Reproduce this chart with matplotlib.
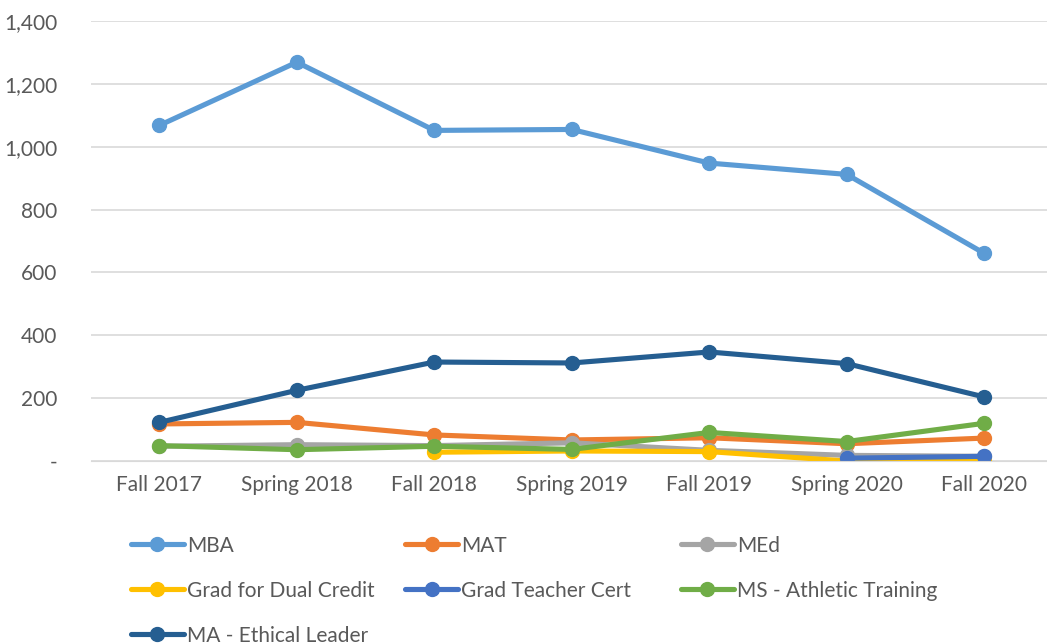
import matplotlib.pyplot as plt
from matplotlib.ticker import FuncFormatter

terms = ['Fall 2017', 'Spring 2018', 'Fall 2018', 'Spring 2019', 'Fall 2019', 'Spring 2020', 'Fall 2020']

mba = [1068, 1269, 1052, 1055, 948, 912, 661]
mat = [118, 123, 83, 67, 74, 55, 73]
med = [47, 52, 49, 58, 34, 18, 15]
grad_dual = [None, None, 28, 32, 30, 0, 0]
grad_teacher = [None, None, None, None, None, 9, 15]
ms_athletic = [49, 36, 47, 37, 91, 62, 120]
ma_ethical = [123, 225, 315, 312, 347, 310, 204]

names = ['MBA', 'MAT', 'MEd', 'Grad for Dual Credit', 'Grad Teacher Cert',
         'MS - Athletic Training', 'MA - Ethical Leader']
series = [mba, mat, med, grad_dual, grad_teacher, ms_athletic, ma_ethical]
colors = ['#5B9BD5', '#ED7D31', '#A5A5A5', '#FFC000', '#4472C4', '#70AD47', '#255E91']

plt.rcParams['font.family'] = ['Lato', 'DejaVu Sans']

fig = plt.figure(figsize=(10.47, 6.43), dpi=100)
ax = fig.add_axes([0.0866, 0.283, 0.919, 0.6843])

x = list(range(len(terms)))
handles = []
for name, vals, c in zip(names, series, colors):
    xs = [i for i, v in zip(x, vals) if v is not None]
    ys = [v for v in vals if v is not None]
    h, = ax.plot(xs, ys, color=c, lw=3.7, marker='o', ms=10, label=name, solid_capstyle='round')
    handles.append(h)

ax.set_xlim(-0.5, 6.5)
ax.set_ylim(0, 1400)
ax.set_yticks(range(0, 1401, 200))
ax.yaxis.set_major_formatter(FuncFormatter(lambda v, p: '-' if v == 0 else f'{int(v):,}'))
ax.set_xticks(x)
ax.set_xticklabels(terms)
ax.tick_params(length=0, labelsize=15, colors='#595959', pad=10)
ax.tick_params(axis='y', pad=24)
ax.grid(axis='y', color='#D9D9D9', lw=1.2)
ax.set_axisbelow(True)
for s in ax.spines.values():
    s.set_visible(False)
ax.spines['bottom'].set_visible(True)
ax.spines['bottom'].set_color('#D9D9D9')

cols = [[0, 3, 6], [1, 4], [2, 5]]
col_x = [0.125, 0.387, 0.650]
for cx, idx in zip(col_x, cols):
    fig.legend([handles[i] for i in idx], [names[i] for i in idx],
               loc='upper left', bbox_to_anchor=(cx, 0.167), frameon=False,
               fontsize=15, labelcolor='#595959', handlelength=2.55, handletextpad=0.15,
               labelspacing=1.2, borderpad=0, borderaxespad=0)

fig.savefig('out.png', dpi=100)
